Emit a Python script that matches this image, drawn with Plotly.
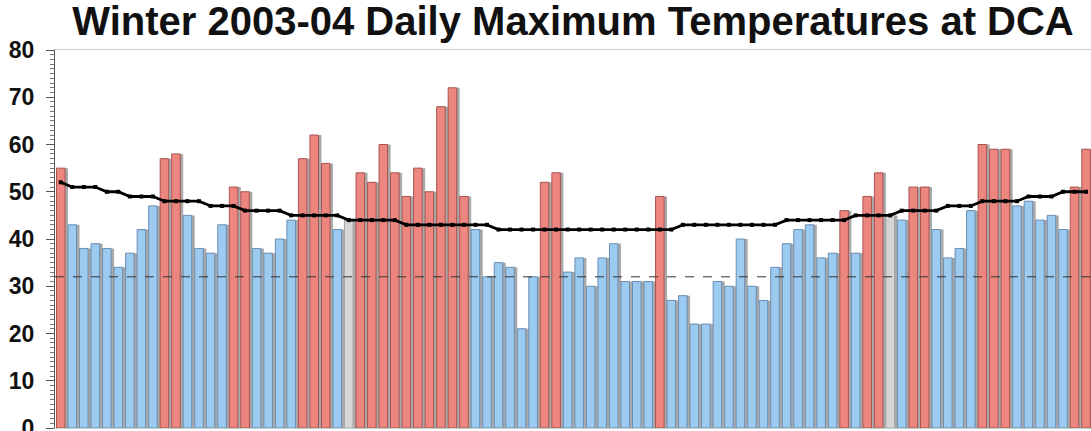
import plotly.graph_objects as go

# Daily maximum temperatures (°F), Dec 1 2003 onward
tmax = [55, 43, 38, 39, 38, 34, 37, 42, 47, 57,
        58, 45, 38, 37, 43, 51, 50, 38, 37, 40,
        44, 57, 62, 56, 42, 44, 54, 52, 60, 54,
        49, 55, 50, 68, 72, 49, 42, 32, 35, 34,
        21, 32, 52, 54, 33, 36, 30, 36, 39, 31,
        31, 31, 49, 27, 28, 22, 22, 31, 30, 40,
        30, 27, 34, 39, 42, 43, 36, 37, 46, 37,
        49, 54, 45, 44, 51, 51, 42, 36, 38, 46,
        60, 59, 59, 47, 48, 44, 45, 42, 51, 59]

# Normal daily maximum (°F)
normal = [52, 51, 51, 51, 50, 50, 49, 49, 49, 48,
          48, 48, 48, 47, 47, 47, 46, 46, 46, 46,
          45, 45, 45, 45, 45, 44, 44, 44, 44, 44,
          43, 43, 43, 43, 43, 43, 43, 43, 42, 42,
          42, 42, 42, 42, 42, 42, 42, 42, 42, 42,
          42, 42, 42, 42, 43, 43, 43, 43, 43, 43,
          43, 43, 43, 44, 44, 44, 44, 44, 44, 45,
          45, 45, 45, 46, 46, 46, 46, 47, 47, 47,
          48, 48, 48, 48, 49, 49, 49, 50, 50, 50]

FREEZING = 32
y_ticks = [0, 10, 20, 30, 40, 50, 60, 70, 80]

days = list(range(len(tmax)))

RED, RED_LINE = "#EE8680", "#A65450"
BLUE, BLUE_LINE = "#9CCBF2", "#6B8DB0"
EVEN, EVEN_LINE = "#D6D6D6", "#A8A8A8"

fills, lines = [], []
for t, n in zip(tmax, normal):
    if t > n:
        fills.append(RED); lines.append(RED_LINE)
    elif t < n:
        fills.append(BLUE); lines.append(BLUE_LINE)
    else:
        fills.append(EVEN); lines.append(EVEN_LINE)

BW = 0.74
fig = go.Figure()
# shadow
fig.add_trace(go.Bar(x=days, y=tmax, width=BW, offset=-BW / 2 + 0.26,
                     marker=dict(color="#A9A9A9", line=dict(width=0)),
                     hoverinfo="skip", showlegend=False))
fig.add_trace(go.Bar(x=days, y=tmax, width=BW, offset=-BW / 2,
                     marker=dict(color=fills, line=dict(color=lines, width=1)),
                     showlegend=False, name="Max"))
fig.add_trace(go.Scatter(x=days, y=normal, mode="lines+markers",
                         line=dict(color="black", width=2.8),
                         marker=dict(symbol="square", size=4, color="black"),
                         showlegend=False, name="Normal"))
fig.add_hline(y=FREEZING, line=dict(color="#333333", width=1, dash="dash"))

fig.update_layout(
    width=1091, height=431,
    margin=dict(l=55, r=0, t=50, b=3, autoexpand=False),
    barmode="overlay",
    plot_bgcolor="white", paper_bgcolor="white",
    title=dict(text="<b>Winter 2003-04 Daily Maximum Temperatures at DCA</b>",
               x=0.5, xref="paper", xanchor="center",
               y=0.952, yref="container", yanchor="middle", pad=dict(t=0),
               font=dict(family="Liberation Sans", size=40, color="#111111")),
    showlegend=False,
)
fig.update_xaxes(range=[-0.5, 89.43], showticklabels=False, ticks="",
                 showgrid=False, zeroline=False, showline=True, mirror=True,
                 linecolor="#C8D0D4", linewidth=1, automargin=False)
fig.update_yaxes(range=[0, 80], tickvals=y_ticks, ticks="outside", ticklen=8,
                 tickcolor="#555555", showgrid=False, zeroline=False,
                 showline=True, linecolor="#555555", linewidth=1,
                 ticklabelstandoff=7, automargin=False, ticklabeloverflow="allow",
                 minor=dict(dtick=1, ticks="outside", ticklen=4, tickcolor="#777777"),
                 tickfont=dict(family="Liberation Sans", size=23, color="#111111",
                               weight="bold"))

fig.write_html("out.html", config={"displayModeBar": False},
               post_script="document.body.style.margin='0px';"
                           "document.body.style.padding='0px';"
                           "document.body.style.overflow='hidden';")
